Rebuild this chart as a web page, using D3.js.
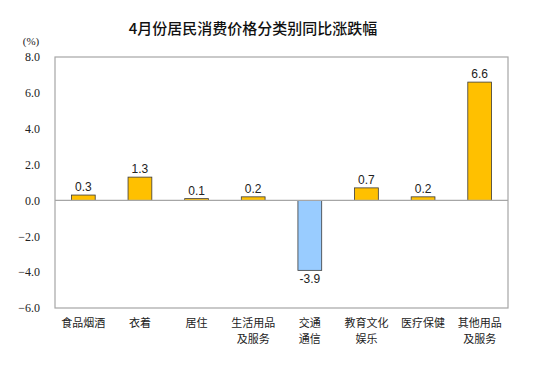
<!DOCTYPE html>
<html><head><meta charset="utf-8">
<script src="https://cdn.jsdelivr.net/npm/d3@7"></script>
<style>body{margin:0;background:#fff}</style>
</head><body>
<svg id="c" width="546" height="374"></svg>
<script>
const categories = [["食品烟酒"],["衣着"],["居住"],["生活用品","及服务"],["交通","通信"],["教育文化","娱乐"],["医疗保健"],["其他用品","及服务"]];
const values = [0.3, 1.3, 0.1, 0.2, -3.9, 0.7, 0.2, 6.6];
const yTicks = [-6, -4, -2, 0, 2, 4, 6, 8];
const title = "4月份居民消费价格分类别同比涨跌幅";
const unit = "(%)";

const svg = d3.select("#c");
const L = 55, R = 508, T = 57, B = 308;
const x = d3.scaleBand().domain(d3.range(values.length)).range([L, R]).paddingInner(0.58).paddingOuter(0.29);
const y = d3.scaleLinear().domain([-6, 8]).range([B, T]);

svg.append("text").attr("x", 253).attr("y", 34).attr("text-anchor", "middle")
  .attr("font-family", "'Noto Sans CJK SC'").attr("font-size", 15).attr("font-weight", 500).attr("fill", "#111").text(title);
svg.append("text").attr("x", 31).attr("y", 45).attr("text-anchor", "middle")
  .attr("font-family", "'Liberation Serif'").attr("font-size", 11).attr("fill", "#222").text(unit);

svg.append("rect").attr("x", L).attr("y", T).attr("width", R - L).attr("height", B - T)
  .attr("fill", "none").attr("stroke", "#a6a6a6").attr("stroke-width", 1.2);

const yAxis = svg.append("g").attr("transform", `translate(${L},0)`)
  .call(d3.axisLeft(y).tickValues(yTicks).tickSize(0).tickPadding(15).tickFormat(d3.format(".1f")));
yAxis.select(".domain").remove();
yAxis.selectAll("text").attr("font-family", "'Liberation Serif'").attr("font-size", 12).attr("fill", "#222");

svg.selectAll("rect.bar").data(values).join("rect").attr("class", "bar")
  .attr("x", (d, i) => x(i)).attr("width", x.bandwidth())
  .attr("y", d => y(Math.max(0, d))).attr("height", d => Math.abs(y(d) - y(0)))
  .attr("fill", d => d >= 0 ? "#FFC000" : "#99CCFF").attr("stroke", "#3a3a3a").attr("stroke-width", 0.8);

svg.append("line").attr("x1", L).attr("x2", R).attr("y1", y(0)).attr("y2", y(0))
  .attr("stroke", "#a6a6a6").attr("stroke-width", 1.2);

svg.selectAll("text.val").data(values).join("text").attr("class", "val")
  .attr("x", (d, i) => x(i) + x.bandwidth() / 2)
  .attr("y", d => d >= 0 ? y(d) - 4 : y(d) + 13)
  .attr("text-anchor", "middle").attr("font-family", "'Liberation Sans'").attr("font-size", 12).attr("fill", "#222")
  .text(d => d.toFixed(1));

const cat = svg.selectAll("text.cat").data(categories).join("text").attr("class", "cat")
  .attr("text-anchor", "middle").attr("font-family", "'Noto Sans CJK SC'").attr("font-size", 11).attr("fill", "#222");
cat.each(function(d, i) {
  const t = d3.select(this);
  d.forEach((line, j) => t.append("tspan").attr("x", x(i) + x.bandwidth() / 2).attr("y", 327 + j * 16).text(line));
});
</script>
</body></html>
